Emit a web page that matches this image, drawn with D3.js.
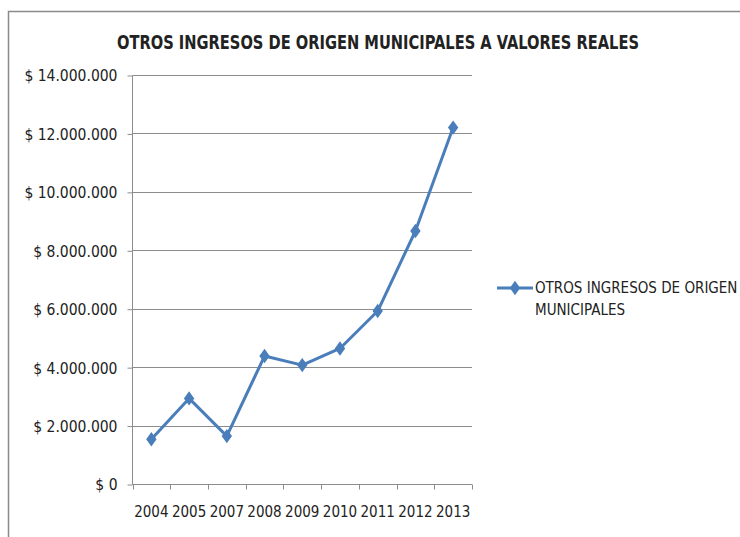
<!DOCTYPE html>
<html>
<head>
<meta charset="utf-8">
<script src="https://cdn.jsdelivr.net/npm/d3@7"></script>
<style>
  body { margin: 0; background: #fff; }
  svg text { font-family: "Liberation Sans Narrow", "Arial Narrow", "DejaVu Sans Condensed", sans-serif; fill: #222; }
</style>
</head>
<body>
<svg id="chart" width="740" height="537"></svg>
<script>
  // --- Data ---
  const years = ['2004', '2005', '2007', '2008', '2009', '2010', '2011', '2012', '2013'];
  const values = [1530000, 2930000, 1640000, 4380000, 4070000, 4640000, 5920000, 8660000, 12200000];
  const yTicks = [0, 2000000, 4000000, 6000000, 8000000, 10000000, 12000000, 14000000];
  const seriesName = ['OTROS INGRESOS DE ORIGEN', 'MUNICIPALES'];
  const title = 'OTROS INGRESOS DE ORIGEN MUNICIPALES A VALORES REALES';

  const svg = d3.select('#chart');
  const blue = '#4A7EBB';
  const grid = '#8C8C8C';

  // Chart frame
  svg.append('rect')
    .attr('x', 8.5).attr('y', 11.5)
    .attr('width', 800).attr('height', 600)
    .attr('fill', 'none').attr('stroke', '#8a8a8a').attr('stroke-width', 1.5);

  // Title
  svg.append('text')
    .attr('x', 378).attr('y', 49)
    .attr('text-anchor', 'middle')
    .attr('font-size', 19).attr('font-weight', 'bold')
    .attr('textLength', 522).attr('lengthAdjust', 'spacingAndGlyphs')
    .text(title);

  // --- Scales ---
  const x = d3.scaleBand().domain(years).range([132.5, 472]);
  const y = d3.scaleLinear().domain([0, 14000000]).range([484, 75]);

  const fmt = v => '$ ' + d3.format(',')(v).replace(/,/g, '.');

  // Gridlines
  svg.append('g')
    .selectAll('line')
    .data(yTicks.filter(v => v > 0))
    .enter().append('line')
    .attr('x1', 132.5).attr('x2', 472)
    .attr('y1', d => Math.round(y(d)) + 0.5).attr('y2', d => Math.round(y(d)) + 0.5)
    .attr('stroke', grid).attr('stroke-width', 1);

  // Y axis
  const yAxis = svg.append('g')
    .attr('transform', 'translate(132.5,0.5)')
    .call(d3.axisLeft(y).tickValues(yTicks).tickSize(5).tickSizeOuter(0).tickPadding(10).tickFormat(fmt));
  yAxis.select('.domain').attr('stroke', grid).attr('d', `M0,${y(0)}V${y(14000000)}`);
  yAxis.selectAll('.tick line').attr('stroke', grid);
  yAxis.selectAll('.tick text').attr('font-size', 15.5).attr('fill', '#222').attr('dy', '0.35em');

  // X axis
  const xAxis = svg.append('g')
    .attr('transform', `translate(0,${Math.round(y(0)) + 0.5})`)
    .call(d3.axisBottom(x).tickSize(0).tickPadding(22));
  xAxis.select('.domain').attr('stroke', grid).attr('d', 'M132.5,0H472');
  xAxis.selectAll('.tick text').attr('font-size', 15).attr('fill', '#222');
  // tick marks at band boundaries
  xAxis.append('g')
    .selectAll('line')
    .data(years.concat(['end']))
    .enter().append('line')
    .attr('x1', (d, i) => Math.round(132.5 + i * x.step()) + 0.5)
    .attr('x2', (d, i) => Math.round(132.5 + i * x.step()) + 0.5)
    .attr('y1', 0).attr('y2', 5)
    .attr('stroke', grid);

  // --- Series ---
  const pts = years.map((yr, i) => ({ yr, v: values[i] }));
  const line = d3.line()
    .x(d => x(d.yr) + x.bandwidth() / 2)
    .y(d => y(d.v));

  svg.append('path')
    .datum(pts)
    .attr('d', line)
    .attr('fill', 'none')
    .attr('stroke', blue).attr('stroke-width', 3)
    .attr('stroke-linejoin', 'round');

  const diamond = d3.symbol().type(d3.symbolDiamond).size(60);
  svg.append('g')
    .selectAll('path')
    .data(pts)
    .enter().append('path')
    .attr('d', diamond)
    .attr('transform', d => `translate(${x(d.yr) + x.bandwidth() / 2},${y(d.v)}) scale(1.25,1)`)
    .attr('fill', blue);

  // --- Legend ---
  const lg = svg.append('g').attr('transform', 'translate(497,288)');
  lg.append('line').attr('x1', 0).attr('x2', 36).attr('y1', 0).attr('y2', 0)
    .attr('stroke', blue).attr('stroke-width', 3);
  lg.append('path').attr('d', diamond).attr('transform', 'translate(18,0) scale(1.25,1)').attr('fill', blue);
  lg.selectAll('text')
    .data(seriesName)
    .enter().append('text')
    .attr('x', 38).attr('y', (d, i) => 5 + i * 22)
    .attr('font-size', 15)
    .text(d => d);
</script>
</body>
</html>
